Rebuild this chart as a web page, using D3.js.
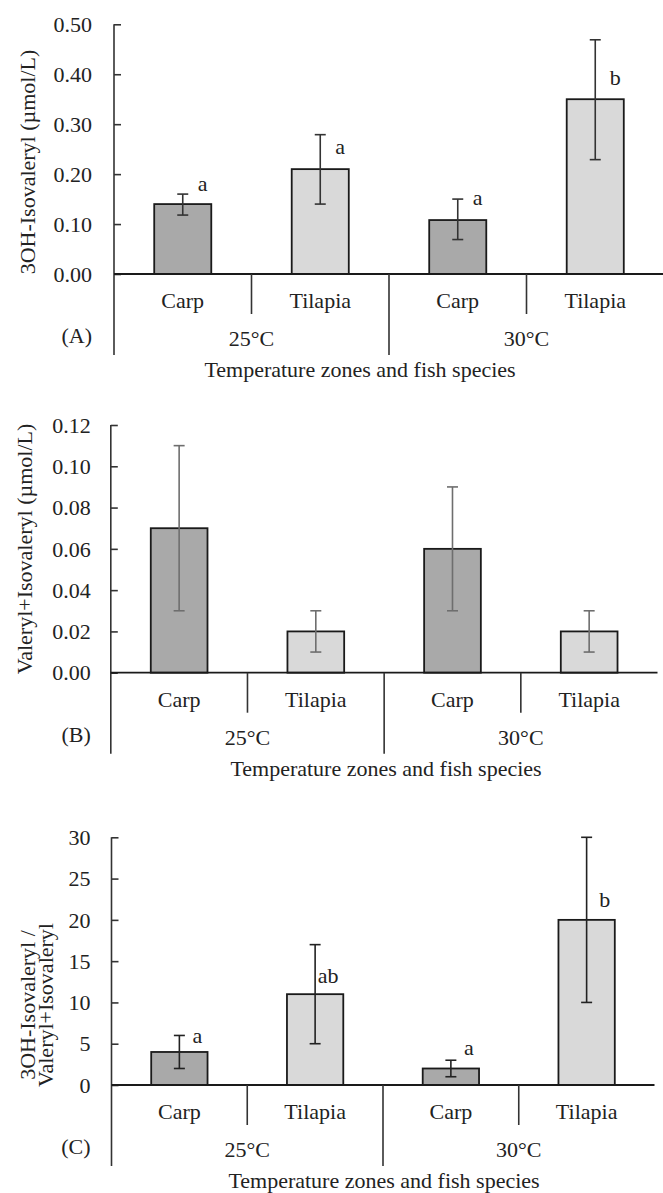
<!DOCTYPE html>
<html>
<head>
<meta charset="utf-8">
<script src="https://cdn.jsdelivr.net/npm/d3@7"></script>
<style>
  html, body { margin: 0; padding: 0; background: #fff; }
  svg { display: block; }
  text { font-family: "Liberation Serif", "Times New Roman", serif; fill: #222; }
</style>
</head>
<body>
<div id="chart"></div>
<script>
// categories and groups
const species = ["Carp", "Tilapia", "Carp", "Tilapia"];
const zones = ["25°C", "30°C"];

// (A) 3OH-Isovaleryl
const meanA = [0.14, 0.21, 0.108, 0.35];
const lowA = [0.118, 0.14, 0.069, 0.229];
const highA = [0.16, 0.279, 0.15, 0.469];
const letterA = ["a", "a", "a", "b"];
const letterAtA = [0.166, 0.24, 0.139, 0.378];
const ticksA = [0, 0.1, 0.2, 0.3, 0.4, 0.5];

// (B) Valeryl+Isovaleryl
const meanB = [0.07, 0.02, 0.06, 0.02];
const lowB = [0.03, 0.01, 0.03, 0.01];
const highB = [0.11, 0.03, 0.09, 0.03];
const ticksB = [0, 0.02, 0.04, 0.06, 0.08, 0.10, 0.12];

// (C) ratio
const meanC = [4, 11, 2, 20];
const lowC = [2, 5, 1, 10];
const highC = [6, 17, 3, 30];
const letterC = ["a", "ab", "a", "b"];
const letterAtC = [5.1, 12.35, 3.6, 21.55];
const ticksC = [0, 5, 10, 15, 20, 25, 30];

const W = 663, H = 1193;
const svg = d3.select("#chart").append("svg").attr("width", W).attr("height", H);

const panels = [
    { tag: "(A)", mean: meanA, low: lowA, high: highA, letters: letterA, letterAt: letterAtA,
      ticks: ticksA, fmt: d3.format(".2f"), left: 114, right: 664, top: 24.3, zero: 274,
      title: ["3OH-Isovaleryl (µmol/L)"], titleX: [35], titleY: 162, xTitleX: 360,
      errColor: "#333", letterDx: 20, labelGap: 22 },
    { tag: "(B)", mean: meanB, low: lowB, high: highB, letters: null, letterAt: null,
      ticks: ticksB, fmt: d3.format(".2f"), left: 110.8, right: 657.5, top: 425, zero: 672.7,
      title: ["Valeryl+Isovaleryl (µmol/L)"], titleX: [32], titleY: 549, xTitleX: 386,
      errColor: "#6e6e6e", letterDx: 20, labelGap: 20 },
    { tag: "(C)", mean: meanC, low: lowC, high: highC, letters: letterC, letterAt: letterAtC,
      ticks: ticksC, fmt: d3.format("d"), left: 111.5, right: 654.5, top: 837.3, zero: 1085,
      title: ["3OH-Isovaleryl /", "Valeryl+Isovaleryl"], titleX: [35, 53], titleY: 1005, xTitleX: 384,
      errColor: "#222", letterDx: 18, labelGap: 21 }
];

const fills = ["#a9a9a9", "#d9d9d9", "#a9a9a9", "#d9d9d9"];

panels.forEach(p => {
    const g = svg.append("g");
    const idx = d3.range(species.length);
    const x = d3.scaleBand().domain(idx).range([p.left, p.right]).paddingInner(0).paddingOuter(0);
    const y = d3.scaleLinear().domain([p.ticks[0], p.ticks[p.ticks.length - 1]]).range([p.zero, p.top]);
    const bw = x.bandwidth() * 0.415;

    // bars
    g.selectAll(".bar").data(idx).enter().append("rect")
        .attr("class", "bar")
        .attr("x", i => x(i) + x.bandwidth() / 2 - bw / 2)
        .attr("y", i => y(p.mean[i]))
        .attr("width", bw)
        .attr("height", i => p.zero - y(p.mean[i]))
        .attr("fill", i => fills[i])
        .attr("stroke", "#1a1a1a")
        .attr("stroke-width", 1.8);

    // error bars
    const eb = g.selectAll(".err").data(idx).enter().append("g").attr("class", "err")
        .attr("stroke", p.errColor).attr("stroke-width", 1.6);
    eb.append("line")
        .attr("x1", i => x(i) + x.bandwidth() / 2).attr("x2", i => x(i) + x.bandwidth() / 2)
        .attr("y1", i => y(p.low[i])).attr("y2", i => y(p.high[i]));
    [p.low, p.high].forEach(arr => {
        eb.append("line")
            .attr("x1", i => x(i) + x.bandwidth() / 2 - 5.5).attr("x2", i => x(i) + x.bandwidth() / 2 + 5.5)
            .attr("y1", i => y(arr[i])).attr("y2", i => y(arr[i]));
    });

    // significance letters
    if (p.letters) {
        g.selectAll(".letter").data(idx).enter().append("text")
            .attr("x", i => x(i) + x.bandwidth() / 2 + p.letterDx - 5 * (p.letters[i].length - 1))
            .attr("y", i => y(p.letterAt[i]))
            .attr("text-anchor", "middle")
            .attr("font-size", 22)
            .text(i => p.letters[i]);
    }

    // y axis with inward ticks
    const yAxis = d3.axisRight(y).tickValues(p.ticks).tickSize(7).tickFormat("");
    const ya = g.append("g").attr("transform", `translate(${p.left},0)`).call(yAxis);
    ya.select(".domain").remove();
    ya.selectAll("line").attr("stroke", "#333").attr("stroke-width", 1.6);
    g.selectAll(".ytl").data(p.ticks).enter().append("text")
        .attr("x", p.left - p.labelGap)
        .attr("y", d => y(d))
        .attr("dy", "0.35em")
        .attr("text-anchor", "end")
        .attr("font-size", 22)
        .text(d => p.fmt(d));

    // axis lines
    const axisBottom = p.zero + 81;
    g.append("line").attr("x1", p.left).attr("x2", p.left).attr("y1", p.top).attr("y2", axisBottom)
        .attr("stroke", "#333").attr("stroke-width", 1.6);
    g.append("line").attr("x1", p.left).attr("x2", p.right).attr("y1", p.zero).attr("y2", p.zero)
        .attr("stroke", "#1a1a1a").attr("stroke-width", 1.8);

    // category dividers
    [1, 3].forEach(k => {
        g.append("line").attr("x1", x(k)).attr("x2", x(k)).attr("y1", p.zero).attr("y2", p.zero + 40)
            .attr("stroke", "#333").attr("stroke-width", 1.6);
    });
    g.append("line").attr("x1", x(2)).attr("x2", x(2)).attr("y1", p.zero).attr("y2", axisBottom)
        .attr("stroke", "#333").attr("stroke-width", 1.6);

    // category labels
    g.selectAll(".cat").data(idx).enter().append("text")
        .attr("x", i => x(i) + x.bandwidth() / 2)
        .attr("y", p.zero + 34)
        .attr("text-anchor", "middle")
        .attr("font-size", 22)
        .text(i => species[i]);

    // group labels
    zones.forEach((z, k) => {
        g.append("text")
            .attr("x", (x(2 * k) + x(2 * k + 1) + x.bandwidth()) / 2)
            .attr("y", p.zero + 72)
            .attr("text-anchor", "middle")
            .attr("font-size", 22)
            .text(z);
    });

    // panel tag
    g.append("text")
        .attr("x", p.left - p.labelGap)
        .attr("y", p.zero + 69)
        .attr("text-anchor", "end")
        .attr("font-size", 22)
        .text(p.tag);

    // x title
    g.append("text")
        .attr("x", p.xTitleX)
        .attr("y", p.zero + 103)
        .attr("text-anchor", "middle")
        .attr("font-size", 22)
        .text("Temperature zones and fish species");

    // y title
    p.title.forEach((t, k) => {
        g.append("text")
            .attr("transform", `translate(${p.titleX[k]},${p.titleY}) rotate(-90)`)
            .attr("text-anchor", "middle")
            .attr("font-size", 22)
            .text(t);
    });
});
</script>
</body>
</html>
